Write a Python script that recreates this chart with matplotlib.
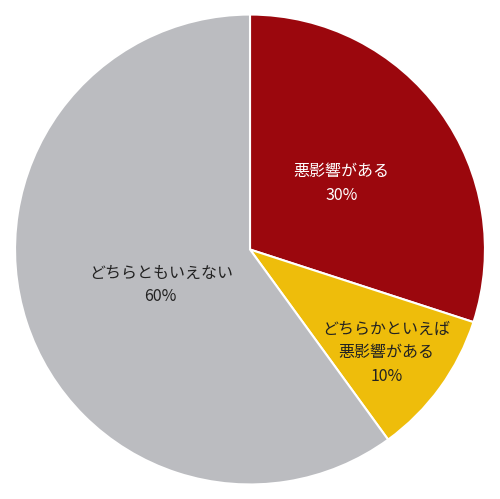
import matplotlib
matplotlib.use("Agg")
import matplotlib.pyplot as plt

labels = ["悪影響がある\n30%", "どちらかといえば\n悪影響がある\n10%", "どちらともいえない\n60%"]
values = [30, 10, 60]
colors = ["#9B070D", "#EEBD0B", "#BBBCC0"]
text_colors = ["white", "#222222", "#222222"]
label_pos = [(0.39, 0.28), (0.58, -0.44), (-0.38, -0.15)]

plt.rcParams['font.family'] = ['Noto Sans CJK JP', 'DejaVu Sans']
fig = plt.figure(figsize=(5.0, 4.99), dpi=100)
ax = fig.add_axes([0, 0, 1, 1])
wedges, _ = ax.pie(values, colors=colors, startangle=90, counterclock=False,
                   wedgeprops=dict(edgecolor="white", linewidth=1.5))
for lab, tc, (x, y) in zip(labels, text_colors, label_pos):
    ax.text(x, y, lab, ha="center", va="center",
            color=tc, fontsize=11.5, linespacing=1.5)
ax.set_xlim(-1.064, 1.064)
ax.set_ylim(-1.06, 1.06)
ax.set_aspect("equal")
fig.savefig("out.png", dpi=100)
